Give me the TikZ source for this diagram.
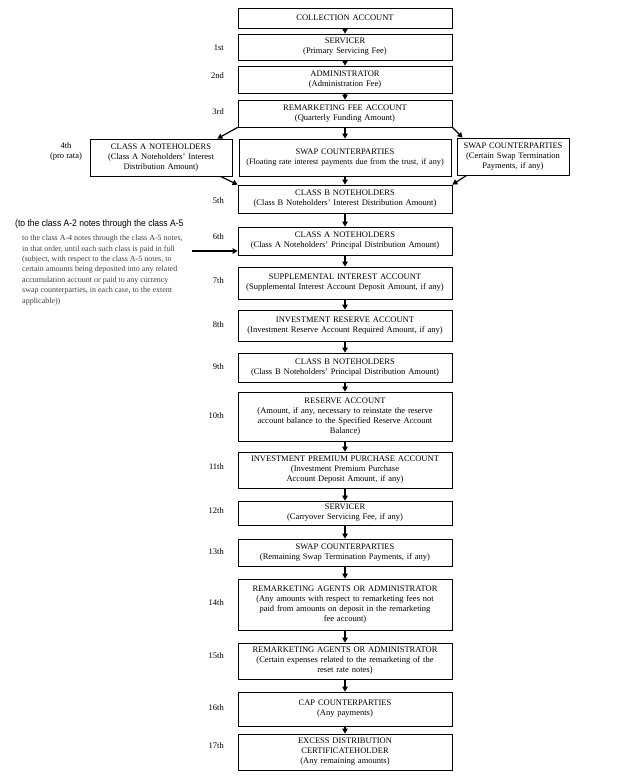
\documentclass[tikz,border=0pt]{standalone}
\usepackage{fontspec}
\setmainfont{Liberation Serif}
\newfontfamily\narrowsans[FakeStretch=0.9]{Liberation Sans}
\usetikzlibrary{arrows.meta}
\newcommand{\abox}[6]{\node[box, minimum width=#4pt, minimum height=#5pt, text width=#4pt] (#1) at (#2,#3) {#6};}
\begin{document}
\begin{tikzpicture}[x=1pt,y=-1pt,
  box/.style={draw, line width=0.8pt, inner sep=0pt, align=center, font=\fontsize{8.5}{10}\selectfont},
  lbl/.style={anchor=east, inner sep=0pt, font=\fontsize{8.5}{10}\selectfont},
  arr/.style={line width=1.2pt, -{Triangle[length=5pt,width=5.5pt]}}
]
\useasboundingbox[fill=white] (0,0) rectangle (636,776);

\abox{coll}{345}{18}{214}{20}{COLLECTION ACCOUNT}
\abox{serv}{345}{47}{214}{26}{SERVICER\\(Primary Servicing Fee)}
\abox{admin}{345}{79.5}{214}{27}{ADMINISTRATOR\\(Administration Fee)}
\abox{rem}{345}{113.5}{214}{27}{REMARKETING FEE ACCOUNT\\(Quarterly Funding Amount)}
\abox{leftA}{161}{157.5}{142}{37}{CLASS A NOTEHOLDERS\\(Class A Noteholders' Interest\\Distribution Amount)}
\abox{midswap}{345}{157.5}{212}{37}{SWAP COUNTERPARTIES\\{\fontsize{8.2}{10}\selectfont(Floating rate interest payments due from the trust, if any)}}
\abox{rightswap}{513}{156.5}{112}{37}{SWAP COUNTERPARTIES\\(Certain Swap Termination\\Payments, if any)}
\abox{classBi}{345}{199}{214}{28}{CLASS B NOTEHOLDERS\\(Class B Noteholders' Interest Distribution Amount)}
\abox{classAp}{345}{241}{214}{28}{CLASS A NOTEHOLDERS\\(Class A Noteholders' Principal Distribution Amount)}
\abox{supp}{345}{283}{214}{32}{SUPPLEMENTAL INTEREST ACCOUNT\\(Supplemental Interest Account Deposit Amount, if any)}
\abox{invres}{345}{325.5}{214}{31}{INVESTMENT RESERVE ACCOUNT\\(Investment Reserve Account Required Amount, if any)}
\abox{classBp}{345}{367.5}{214}{29}{CLASS B NOTEHOLDERS\\(Class B Noteholders' Principal Distribution Amount)}
\abox{reserve}{345}{416.5}{214}{49}{RESERVE ACCOUNT\\(Amount, if any, necessary to reinstate the reserve\\account balance to the Specified Reserve Account\\Balance)}
\abox{invprem}{345}{470}{214}{36}{INVESTMENT PREMIUM PURCHASE ACCOUNT\\(Investment Premium Purchase\\Account Deposit Amount, if any)}
\abox{servb}{345}{513}{214}{24}{SERVICER\\(Carryover Servicing Fee, if any)}
\abox{swapr}{345}{552.5}{214}{27}{SWAP COUNTERPARTIES\\(Remaining Swap Termination Payments, if any)}
\abox{remag}{345}{604.5}{214}{51}{REMARKETING AGENTS OR ADMINISTRATOR\\(Any amounts with respect to remarketing fees not\\paid from amounts on deposit in the remarketing\\fee account)}
\abox{remex}{345}{661}{214}{36}{REMARKETING AGENTS OR ADMINISTRATOR\\(Certain expenses related to the remarketing of the\\reset rate notes)}
\abox{cap}{345}{709}{214}{34}{CAP COUNTERPARTIES\\(Any payments)}
\abox{excess}{345}{752}{214}{36}{EXCESS DISTRIBUTION\\CERTIFICATEHOLDER\\(Any remaining amounts)}

% priority labels
\node[lbl] (p1) at (224,48) {1st};
\node[lbl] (p2) at (224,76) {2nd};
\node[lbl] (p3) at (224,112) {3rd};
\node[inner sep=0pt, align=center, font=\fontsize{8.5}{10}\selectfont] (p4) at (66,151) {4th\\(pro rata)};
\node[lbl] (p5) at (224,201) {5th};
\node[lbl] (p6) at (224,237) {6th};
\node[lbl] (p7) at (224,281) {7th};
\node[lbl] (p8) at (224,325) {8th};
\node[lbl] (p9) at (224,367) {9th};
\node[lbl] (p10) at (224,416) {10th};
\node[lbl] (p11) at (224,467) {11th};
\node[lbl] (p12) at (224,511) {12th};
\node[lbl] (p13) at (224,552) {13th};
\node[lbl] (p14) at (224,603) {14th};
\node[lbl] (p15) at (224,656) {15th};
\node[lbl] (p16) at (224,708) {16th};
\node[lbl] (p17) at (224,746) {17th};

% left note
\node[anchor=west, inner sep=0pt, font=\narrowsans\fontsize{9.5}{11}\selectfont] (note) at (15,224) {(to the class A-2 notes through the class A-5};
\node[anchor=north west, inner sep=0pt, align=left, text=black!75, font=\fontsize{8}{10.4}\selectfont] (para) at (22,235) {to the class A-4 notes through the class A-5 notes,\\in that order, until each such class is paid in full\\(subject, with respect to the class A-5 notes, to\\certain amounts being deposited into any related\\accumulation account or paid to any currency\\swap counterparties, in each case, to the extent\\applicable))};
\coordinate (src) at (192,251);
\draw[arr] (src) -- (src -| classAp.west);

% arrows
\draw[arr] (coll) -- (serv);
\draw[arr] (serv) -- (admin);
\draw[arr] (admin) -- (rem);
\draw[arr] (rem) -- (midswap);
\draw[arr] (rem.south west) -- ([xshift=-15pt]leftA.north east);
\draw[arr] (rem.south east) -- ([xshift=6pt]rightswap.north west);
\draw[arr] (midswap) -- (classBi);
\draw[arr] ([xshift=-12pt]leftA.south east) -- (classBi.north west);
\draw[arr] ([xshift=10pt]rightswap.south west) -- (classBi.north east);
\draw[arr] (classBi) -- (classAp);
\draw[arr] (classAp) -- (supp);
\draw[arr] (supp) -- (invres);
\draw[arr] (invres) -- (classBp);
\draw[arr] (classBp) -- (reserve);
\draw[arr] (reserve) -- (invprem);
\draw[arr] (invprem) -- (servb);
\draw[arr] (servb) -- (swapr);
\draw[arr] (swapr) -- (remag);
\draw[arr] (remag) -- (remex);
\draw[arr] (remex) -- (cap);
\draw[arr] (cap) -- (excess);
\end{tikzpicture}
\end{document}
